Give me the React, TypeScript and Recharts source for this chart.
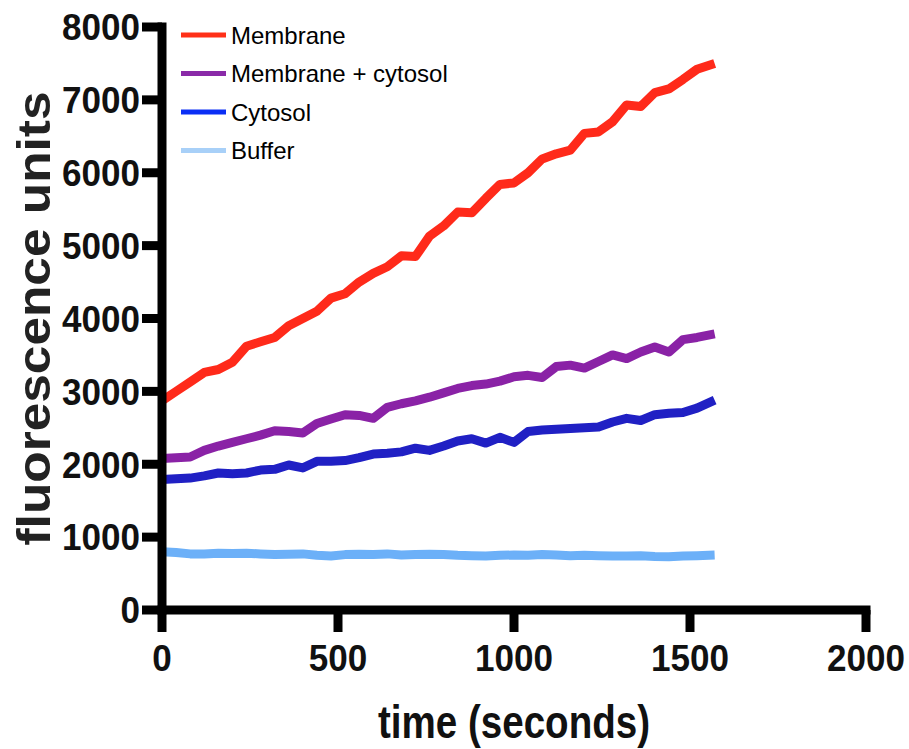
import { LineChart, Line, XAxis, YAxis, Legend, Label } from 'recharts';

// sample times (seconds)
const times = [0, 40, 80, 120, 160, 200, 240, 280, 320, 360, 400, 440, 480, 520, 560, 600, 640, 680, 720, 760,
  800, 840, 880, 920, 960, 1000, 1040, 1080, 1120, 1160, 1200, 1240, 1280, 1320, 1360, 1400, 1440, 1480, 1520, 1570];

const membrane = [2870, 3000, 3130, 3260, 3300, 3400, 3620, 3680, 3740, 3900, 4000, 4100, 4280, 4340, 4500, 4620, 4710, 4860, 4850, 5130,
  5270, 5460, 5450, 5650, 5840, 5860, 6000, 6190, 6260, 6310, 6540, 6560, 6700, 6930, 6910, 7100, 7150, 7280, 7420, 7500];

const membraneCytosol = [2080, 2090, 2100, 2190, 2250, 2300, 2350, 2400, 2460, 2450, 2430, 2560, 2620, 2680, 2670, 2630, 2780, 2830, 2870, 2920,
  2980, 3040, 3080, 3100, 3140, 3200, 3220, 3190, 3340, 3360, 3320, 3410, 3500, 3450, 3540, 3610, 3540, 3710, 3740, 3790];

const cytosol = [1790, 1800, 1810, 1840, 1880, 1870, 1880, 1920, 1930, 1990, 1950, 2040, 2040, 2050, 2090, 2140, 2150, 2170, 2220, 2190,
  2250, 2320, 2350, 2290, 2370, 2300, 2450, 2470, 2480, 2490, 2500, 2510, 2580, 2630, 2600, 2680, 2700, 2710, 2770, 2880];

const buffer = [800, 790, 770, 770, 780, 775, 780, 770, 760, 765, 770, 750, 740, 760, 765, 760, 770, 755, 760, 765,
  760, 750, 745, 740, 750, 755, 750, 760, 755, 745, 750, 745, 740, 740, 745, 735, 730, 740, 745, 755];

const xTicks = [0, 500, 1000, 1500, 2000];
const yTicks = [0, 1000, 2000, 3000, 4000, 5000, 6000, 7000, 8000];

const series = [
  { key: 'membrane', name: 'Membrane', color: '#FF2A1A', legendColor: '#FF3018' },
  { key: 'membraneCytosol', name: 'Membrane + cytosol', color: '#8A22A6', legendColor: '#8A2AA8' },
  { key: 'cytosol', name: 'Cytosol', color: '#2020C4', legendColor: '#0A2EF5' },
  { key: 'buffer', name: 'Buffer', color: '#6CB0F8', legendColor: '#A8D0F8' },
];

const data = times.map((t, i) => ({
  t,
  membrane: membrane[i],
  membraneCytosol: membraneCytosol[i],
  cytosol: cytosol[i],
  buffer: buffer[i],
}));

const FONT = '"Liberation Sans", Arial, Helvetica, sans-serif';
const DIGIT_W = 19.5;

function XTick({ x, y, payload }: any) {
  const s = String(payload.value);
  return (
    <text x={x} y={y} dy="0.71em" textAnchor="middle" fontFamily={FONT} fontWeight="bold" fontSize={37}
      fill="#111" textLength={s.length * DIGIT_W} lengthAdjust="spacingAndGlyphs">
      {s}
    </text>
  );
}

function YTick({ x, y, payload }: any) {
  const s = String(payload.value);
  return (
    <text x={x} y={y} dy="0.36em" textAnchor="end" fontFamily={FONT} fontWeight="bold" fontSize={37}
      fill="#111" textLength={s.length * DIGIT_W} lengthAdjust="spacingAndGlyphs">
      {s}
    </text>
  );
}

function renderLegend() {
  return (
    <svg width={480} height={170} style={{ display: 'block' }}>
      {series.map((s, i) => {
        const cy = 35 + i * 38.5;
        return (
          <g key={s.key}>
            <line x1={181} x2={226} y1={cy} y2={cy} stroke={s.legendColor} strokeWidth={5} />
            <text x={231} y={cy} dy="0.36em" fontFamily={FONT} fontSize={24} fill="#000">{s.name}</text>
          </g>
        );
      })}
    </svg>
  );
}

const axisLine = { stroke: '#000', strokeWidth: 9, strokeLinecap: 'square' as const };
const tickLine = { stroke: '#000', strokeWidth: 9 };

export default function App() {
  return (
    <div style={{ position: 'absolute', left: 0, top: 0, width: 909, height: 749, background: '#fff' }}>
      <LineChart width={909} height={749} data={data} margin={{ top: 27, right: 43, bottom: 79, left: 62 }}>
        <XAxis
          dataKey="t"
          type="number"
          domain={[0, 2000]}
          ticks={xTicks}
          height={60}
          axisLine={axisLine}
          tickLine={tickLine}
          tickSize={22}
          tickMargin={13}
          tick={<XTick />}
        >
          <Label
            content={({ viewBox }: any) => (
              <text x={viewBox.x + viewBox.width / 2} y={738} textAnchor="middle" fontFamily={FONT}
                fontWeight="bold" fontSize={46} fill="#111" textLength={272} lengthAdjust="spacingAndGlyphs">
                time (seconds)
              </text>
            )}
          />
        </XAxis>
        <YAxis
          type="number"
          domain={[0, 8000]}
          ticks={yTicks}
          width={100}
          axisLine={axisLine}
          tickLine={tickLine}
          tickSize={20}
          tickMargin={2}
          tick={<YTick />}
        >
          <Label
            content={({ viewBox }: any) => {
              const cy = viewBox.y + viewBox.height / 2;
              return (
                <text x={50} y={cy} transform={`rotate(-90 50 ${cy})`} textAnchor="middle" fontFamily={FONT}
                  fontWeight="bold" fontSize={46} fill="#222" textLength={454} lengthAdjust="spacingAndGlyphs">
                  fluorescence units
                </text>
              );
            }}
          />
        </YAxis>
        <Legend
          layout="vertical"
          align="center"
          verticalAlign="middle"
          content={renderLegend}
          wrapperStyle={{ left: 0, top: 0, width: 480, height: 170 }}
        />
        {series.map(s => (
          <Line
            key={s.key}
            type="linear"
            dataKey={s.key}
            name={s.name}
            stroke={s.color}
            strokeWidth={9}
            strokeLinejoin="round"
            dot={false}
            activeDot={false}
            isAnimationActive={false}
          />
        ))}
      </LineChart>
    </div>
  );
}
